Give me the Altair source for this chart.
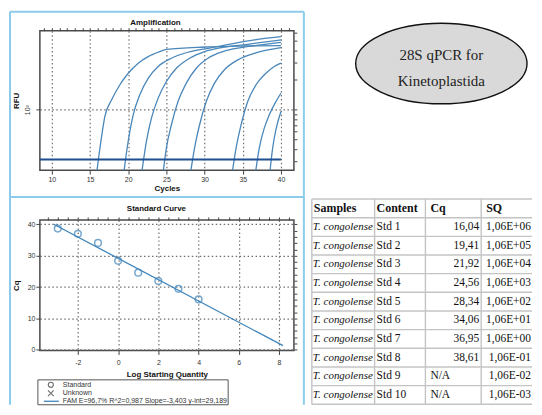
import altair as alt
import pandas as pd

# ---------------- Amplification curves (cycle, RFU) ----------------
curve_names = ["Std 1", "Std 2", "Std 3", "Std 4", "Std 5", "Std 6", "Std 7", "Std 8"]
c1_cycle = [15.9, 16.52, 16.95, 17.83, 18.91, 20.0, 21.31, 22.61, 24.13, 25.0, 30.0, 35.0, 40.0]
c1_rfu = [24, 54, 86, 126, 179, 234, 296, 345, 388, 409, 432, 442, 446]
c2_cycle = [19.45, 20.0, 20.66, 21.52, 22.61, 23.92, 25.65, 27.83, 30.44, 33.9, 37.4, 40.0]
c2_rfu = [24, 48, 89, 142, 208, 274, 332, 382, 419, 471, 521, 550]
c3_cycle = [21.8, 22.39, 23.04, 23.92, 25.0, 26.3, 28.04, 30.0, 32.17, 35.65, 40.0]
c3_rfu = [24, 48, 82, 131, 193, 263, 332, 388, 426, 460, 509]
c4_cycle = [24.6, 25.0, 25.65, 26.52, 27.61, 28.91, 30.44, 32.39, 34.78, 37.39, 40.0]
c4_rfu = [24, 41, 70, 121, 186, 263, 332, 388, 426, 454, 482]
c5_cycle = [28.2, 28.69, 29.34, 30.22, 31.3, 32.6, 34.35, 36.52, 38.7, 40.0]
c5_rfu = [24, 41, 70, 121, 186, 254, 320, 373, 409, 426]
c6_cycle = [33.65, 34.13, 34.78, 35.65, 36.74, 38.04, 39.13, 40.0]
c6_rfu = [24, 41, 70, 121, 179, 234, 274, 296]
c7_cycle = [36.7, 37.17, 37.82, 38.48, 39.35, 40.0]
c7_rfu = [24, 41, 65, 89, 121, 147]
c8_cycle = [38.57, 38.92, 39.35, 40.0]
c8_rfu = [24, 41, 63, 96]
threshold_cycle = [8.43, 40.0]
threshold_rfu = [31.3, 31.3]
amp_x_major = [10, 15, 20, 25, 30, 35, 40]
amp_x_minor = list(range(9, 42))
amp_y_major = [100]
amp_y_minor = [30, 40, 50, 60, 70, 80, 90, 100, 200, 300, 400, 500, 600]

# ---------------- Standard curve ----------------
std_log_qty = [4, 3, 2, 1, 0, -1, -2, -3]
std_cq = [16.04, 19.41, 21.92, 24.56, 28.34, 34.06, 36.95, 38.61]
fit_log_qty = [-3.2, 8.2]
fit_cq = [40.0, 1.3]
std_x_major = [-2, 0, 2, 4, 6, 8]
std_x_minor = [-3.5, -3, -2.5, -2, -1.5, -1, -0.5, 0, 0.5, 1, 1.5, 2, 2.5, 3, 3.5, 4,
               4.5, 5, 5.5, 6, 6.5, 7, 7.5, 8, 8.5]
std_y_major = [0, 10, 20, 30, 40]
std_y_minor = [0, 2, 4, 6, 8, 10, 12, 14, 16, 18, 20, 22, 24, 26, 28, 30, 32, 34, 36, 38, 40]
legend_labels = ["Standard", "Unknown", "FAM"]
fit_stats = "E=96,7% R^2=0,987 Slope=-3,403 y-int=29,189"

# ---------------- Table ----------------
tbl_headers = ["Samples", "Content", "Cq", "SQ"]
tbl_samples = ["T. congolense"] * 10
tbl_content = ["Std 1", "Std 2", "Std 3", "Std 4", "Std 5", "Std 6", "Std 7", "Std 8", "Std 9", "Std 10"]
tbl_cq = ["16,04", "19,41", "21,92", "24,56", "28,34", "34,06", "36,95", "38,61", "N/A", "N/A"]
tbl_sq = ["1,06E+06", "1,06E+05", "1,06E+04", "1,06E+03", "1,06E+02",
          "1,06E+01", "1,06E+00", "1,06E-01", "1,06E-02", "1,06E-03"]
ellipse_lines = ["28S qPCR for", "Kinetoplastida"]
panel_titles = ["Amplification", "Standard Curve"]

# ---------------- styling / layout constants ----------------
CURVE_COLOR = "#4a87ba"
THRESH_COLOR = "#1d4f91"
STD_COLOR = "#3f84ba"
BOX_COLOR = "#8ccbea"
GRID_COLOR = "#6f6f6f"
TABLE_LINE = "#c4c4c4"
SANS = "Liberation Sans"
SERIF = "Liberation Serif"
col_lines = [1, 64, 115, 171]      # vertical table lines (table units)
row_line_span = [1, 222]           # horizontal table lines extent
BOTTOM = 185.5                     # lowest drawn pixel below the standard-curve plot origin
T_TOP, T_BOT = -21, 185
ROW_STEP = (T_BOT - T_TOP) / 11.0

one = pd.DataFrame({"k": [0]})


def vrule(x, y0, y1, color=BOX_COLOR, w=2):
    return alt.Chart(one).mark_rule(color=color, strokeWidth=w).encode(
        x=alt.value(x), y=alt.value(y0), y2=alt.value(y1))


def hrule(x0, x1, y, color=BOX_COLOR, w=2):
    return alt.Chart(one).mark_rule(color=color, strokeWidth=w).encode(
        x=alt.value(x0), x2=alt.value(x1), y=alt.value(y))


def label(text, x, y, **kw):
    return alt.Chart(one).mark_text(**kw).encode(x=alt.value(x), y=alt.value(y), text=alt.value(text))


def major_axis(values, title, label_pad, title_pad, orient, **kw):
    return alt.Axis(values=values, grid=True, gridColor=GRID_COLOR, gridDash=[1.5, 2.5],
                    gridWidth=1.2, gridOpacity=1, tickSize=4, labelOverlap=False, labelFlush=False,
                    labelPadding=label_pad, titlePadding=title_pad, title=title, orient=orient, **kw)


def minor_axis(values, orient):
    return alt.Axis(values=values, grid=False, labels=False, tickSize=3, title=None, orient=orient)


# ================= Amplification =================
cyc_lists = [c1_cycle, c2_cycle, c3_cycle, c4_cycle, c5_cycle, c6_cycle, c7_cycle, c8_cycle]
rfu_lists = [c1_rfu, c2_rfu, c3_rfu, c4_rfu, c5_rfu, c6_rfu, c7_rfu, c8_rfu]
rows = []
for nm, cs, rs in zip(curve_names, cyc_lists, rfu_lists):
    for c, r in zip(cs, rs):
        rows.append({"curve": nm, "cycle": c, "rfu": r})
amp_df = pd.DataFrame(rows)
thr_df = pd.DataFrame({"cycle": threshold_cycle, "rfu": threshold_rfu})

amp_xs = alt.Scale(domain=[8.43, 41.7], nice=False, zero=False)
amp_ys = alt.Scale(type="log", domain=[24.4, 632], nice=False)

curves = alt.Chart(amp_df).mark_line(color=CURVE_COLOR, strokeWidth=1.3, interpolate="monotone",
                                     clip=True).encode(
    x=alt.X("cycle:Q", scale=amp_xs, axis=major_axis(amp_x_major, "Cycles", 1, 2, "bottom")),
    y=alt.Y("rfu:Q", scale=amp_ys,
            axis=major_axis(amp_y_major, "RFU", 5, 3, "left", labelExpr="'10²'", labelAngle=270,
                            labelAlign="center", labelBaseline="bottom")),
    detail="curve:N")
thresh = alt.Chart(thr_df).mark_line(color=THRESH_COLOR, strokeWidth=2).encode(
    x=alt.X("cycle:Q", scale=amp_xs, axis=minor_axis(amp_x_minor, "top")),
    y=alt.Y("rfu:Q", scale=amp_ys, axis=minor_axis(amp_y_minor, "right")))

ell_shape = ("M1,0C1,0.26 0.552,0.47 0,0.47C-0.552,0.47 -1,0.26 -1,0"
             "C-1,-0.26 -0.552,-0.47 0,-0.47C0.552,-0.47 1,-0.26 1,0Z")
ellipse = alt.Chart(one).mark_point(shape=ell_shape, size=29584, filled=True, fill="#d9d9d9",
                                    stroke="#111111", strokeWidth=1.4, opacity=1).encode(
    x=alt.value(403), y=alt.value(33))

amp = alt.layer(
    curves, thresh,
    vrule(-30, -19, 167), vrule(265, -19, 167), hrule(-30, 265, -19),
    label(panel_titles[0], 116, -8, font=SANS, fontSize=8, fontWeight="bold", color="#111111"),
    ellipse,
    label(ellipse_lines[0], 403, 24.5, font=SERIF, fontSize=15, color="#222222"),
    label(ellipse_lines[1], 403, 50.5, font=SERIF, fontSize=15, color="#222222"),
).resolve_axis(x="independent", y="independent").properties(width=255, height=140)

# ================= Standard curve + table =================
std_df = pd.DataFrame({"lq": std_log_qty, "cq": std_cq})
fit_df = pd.DataFrame({"lq": fit_log_qty, "cq": fit_cq})
std_xs = alt.Scale(domain=[-3.89, 8.74], nice=False, zero=False)
std_ys = alt.Scale(domain=[-0.22, 41.37], nice=False, zero=False)

fit_line = alt.Chart(fit_df).mark_line(color=STD_COLOR, strokeWidth=1.3).encode(
    x=alt.X("lq:Q", scale=std_xs,
            axis=major_axis(std_x_major, "Log Starting Quantity", 4, 5, "bottom",
                            labelExpr="'' + datum.value")),
    y=alt.Y("cq:Q", scale=std_ys, axis=major_axis(std_y_major, "Cq", 1, 7, "left")))
pts = alt.Chart(std_df).mark_point(shape="circle", filled=False, color=STD_COLOR, size=45,
                                   strokeWidth=1.5).encode(
    x=alt.X("lq:Q", scale=std_xs, axis=minor_axis(std_x_minor, "top")),
    y=alt.Y("cq:Q", scale=std_ys, axis=minor_axis(std_y_minor, "right")))

X_PATH = "M-0.9,-0.9L0.9,0.9M0.9,-0.9L-0.9,0.9"
leg_box = alt.Chart(one).mark_rect(fill="white", stroke="#555555", strokeWidth=1).encode(
    x=alt.value(-2), x2=alt.value(189), y=alt.value(160.5), y2=alt.value(BOTTOM))
leg_circle = alt.Chart(one).mark_point(shape="circle", filled=False, color="#333333", size=26,
                                       strokeWidth=1.1).encode(x=alt.value(11), y=alt.value(165.5))
leg_x = alt.Chart(one).mark_point(shape=X_PATH, filled=False, color="#333333", size=40,
                                  strokeWidth=1.1).encode(x=alt.value(11), y=alt.value(174))
leg_line = hrule(4, 19, 182, color=STD_COLOR, w=1.3)
leg_kw = dict(font=SANS, fontSize=7, color="#333333", align="left")

std_group = alt.layer(
    fit_line, pts,
    vrule(-30, -23, BOTTOM), vrule(265, -23, BOTTOM), hrule(-30, 265, -23),
    label(panel_titles[1], 117, -11, font=SANS, fontSize=8, fontWeight="bold", color="#111111"),
    leg_box, leg_circle, leg_x, leg_line,
    label(legend_labels[0], 23, 165.5, **leg_kw),
    label(legend_labels[1], 23, 174, **leg_kw),
    label(legend_labels[2], 23, 182, **leg_kw),
    label(fit_stats, 39, 182, **leg_kw),
).resolve_axis(x="independent", y="independent")

# table (own scales, placed to the right of the standard-curve plot)
row_keys = ["H"] + [str(i) for i in range(1, 11)]
tx = alt.Scale(domain=[0, 230], range=[272, 502], nice=False, zero=False)
ty = alt.Scale(domain=row_keys, range=[T_TOP, T_BOT], paddingInner=0, paddingOuter=0)

hl_df = pd.DataFrame({"row": row_keys, "a": [row_line_span[0]] * 11, "b": [row_line_span[1]] * 11})
hlines_top = alt.Chart(hl_df).mark_rule(color=TABLE_LINE, strokeWidth=1.4, yOffset=-ROW_STEP / 2).encode(
    x=alt.X("a:Q", scale=tx, axis=None), x2="b:Q", y=alt.Y("row:N", scale=ty, axis=None))
hlines_bot = alt.Chart(hl_df.tail(1)).mark_rule(color=TABLE_LINE, strokeWidth=1.4,
                                                yOffset=ROW_STEP / 2).encode(
    x=alt.X("a:Q", scale=tx, axis=None), x2="b:Q", y=alt.Y("row:N", scale=ty, axis=None))
vl_df = pd.DataFrame({"x": col_lines})
vlines = alt.Chart(vl_df).mark_rule(color=TABLE_LINE, strokeWidth=1.4).encode(
    x=alt.X("x:Q", scale=tx, axis=None), y=alt.value(T_TOP), y2=alt.value(T_BOT))

head_df = pd.DataFrame({"row": ["H"] * 4, "x": [3, 66, 120, 176], "t": tbl_headers})
body_rows = [str(i) for i in range(1, 11)]
samp_df = pd.DataFrame({"row": body_rows, "x": [2] * 10, "t": tbl_samples})
cont_df = pd.DataFrame({"row": body_rows, "x": [66] * 10, "t": tbl_content})
cq_num_df = pd.DataFrame([{"row": r, "x": 169, "t": v} for r, v in zip(body_rows, tbl_cq) if v != "N/A"])
cq_na_df = pd.DataFrame([{"row": r, "x": 120, "t": v} for r, v in zip(body_rows, tbl_cq) if v == "N/A"])
sq_df = pd.DataFrame({"row": body_rows, "x": [221] * 10, "t": tbl_sq})


def txt(df, align, size=11.5, **kw):
    return alt.Chart(df).mark_text(font=SERIF, fontSize=size, align=align, color="#111111", **kw).encode(
        x=alt.X("x:Q", scale=tx, axis=None), y=alt.Y("row:N", scale=ty, axis=None), text="t:N")


table_group = alt.layer(
    hlines_top, hlines_bot, vlines,
    txt(head_df, "left", size=12, fontWeight="bold"),
    txt(samp_df, "left", size=11, fontStyle="italic"),
    txt(cont_df, "left"),
    txt(cq_num_df, "right"),
    txt(cq_na_df, "left"),
    txt(sq_df, "right"),
)

std = alt.layer(std_group, table_group).resolve_scale(
    x="independent", y="independent").properties(width=255, height=131)

# ================= Compose =================
chart = alt.vconcat(amp, std, spacing=50, bounds="flush").properties(
    padding={"left": 0, "top": 1, "right": 0, "bottom": 0}
).configure_view(stroke="#4a4a4a", strokeWidth=1.5).configure_axis(
    domain=False, labelFont=SANS, titleFont=SANS, labelFontSize=7, titleFontSize=8,
    labelColor="#333333", titleColor="#111111", titleFontWeight="bold",
    tickColor="#444444",
)

chart.save("out.html", embed_options={"renderer": "svg", "actions": False})
